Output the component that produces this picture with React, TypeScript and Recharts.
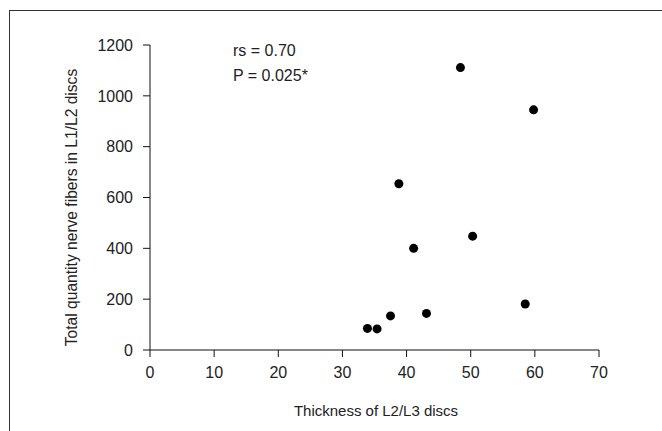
import React from 'react';
import { ScatterChart, Scatter, XAxis, YAxis, Customized } from 'recharts';

const thickness = [33.9, 35.4, 37.5, 38.8, 41.1, 43.1, 48.4, 50.3, 58.5, 59.8];
const nerveFibers = [85, 83, 134, 654, 400, 144, 1111, 448, 181, 945];
const xTicks = [0, 10, 20, 30, 40, 50, 60, 70];
const yTicks = [0, 200, 400, 600, 800, 1000, 1200];

const points = thickness.map((t, i) => ({ x: t, y: nerveFibers[i] }));

const FONT = '"Liberation Sans", Arial, sans-serif';
const tickStyle = { fontSize: 16, fill: '#222', fontFamily: FONT };

const Annotations = () => (
  <g fontFamily={FONT} fill="#222">
    <text x={233} y={56} fontSize={16}>rs = 0.70</text>
    <text x={233} y={81} fontSize={16}>P = 0.025*</text>
    <text x={376} y={416} fontSize={15} textAnchor="middle">Thickness of L2/L3 discs</text>
    <text
      x={71}
      y={207.5}
      fontSize={15.6}
      textAnchor="middle"
      dominantBaseline="central"
      transform="rotate(-90 71 207.5)"
    >
      Total quantity nerve fibers in L1/L2 discs
    </text>
  </g>
);

export default function App() {
  return (
    <div style={{ position: 'absolute', left: 0, top: 0, width: 662, height: 431, overflow: 'hidden', background: '#fff' }}>
      {/* frame, only top and left edges show in the crop */}
      <div
        style={{
          position: 'absolute',
          left: 9,
          top: 10,
          width: 800,
          height: 600,
          borderTop: '1.5px solid #333',
          borderLeft: '1.5px solid #333',
        }}
      />
      <div style={{ position: 'absolute', left: 0, top: 0 }}>
        <ScatterChart width={662} height={431} margin={{ top: 45, right: 63, left: 0, bottom: 0 }}>
          <XAxis
            type="number"
            dataKey="x"
            domain={[0, 70]}
            ticks={xTicks}
            interval={0}
            tickSize={7}
            tickMargin={10}
            height={81}
            tick={tickStyle}
            stroke="#111"
          />
          <YAxis
            type="number"
            dataKey="y"
            domain={[0, 1200]}
            ticks={yTicks}
            interval={0}
            tickSize={7}
            tickMargin={10}
            width={150}
            tick={tickStyle}
            stroke="#111"
          />
          <Scatter data={points} fill="#000" shape={(p: any) => <circle cx={p.cx} cy={p.cy} r={4.5} fill="#000" />} isAnimationActive={false} />
          <Customized component={Annotations} />
        </ScatterChart>
      </div>
    </div>
  );
}
